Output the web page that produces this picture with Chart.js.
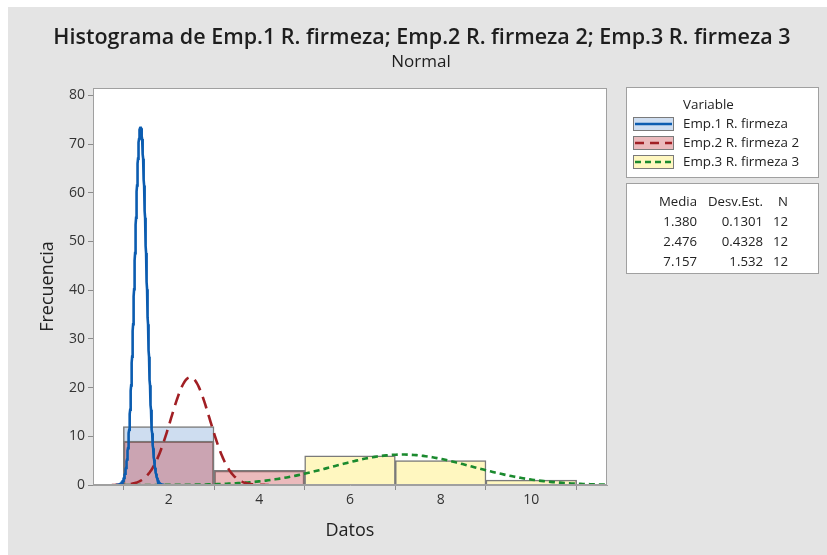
<!DOCTYPE html>
<html lang="es">
<head>
<meta charset="UTF-8">
<title>Histograma de Emp.1 R. firmeza; Emp.2 R. firmeza 2; Emp.3 R. firmeza 3</title>
<script src="https://cdn.jsdelivr.net/npm/chart.js"></script>
<style>
    html, body { margin: 0; padding: 0; background: #ffffff; }
    #histChart { display: block; }
</style>
</head>
<body>
<canvas id="histChart" width="827" height="555"></canvas>
<script>
// --- data ---
const seriesNames = ['Emp.1 R. firmeza', 'Emp.2 R. firmeza 2', 'Emp.3 R. firmeza 3'];
const binCenters = [2, 4, 6, 8, 10];
const binWidth = 2;
const emp1Counts = [12, 0, 0, 0, 0];
const emp2Counts = [9, 3, 0, 0, 0];
const emp3Counts = [0, 0, 6, 5, 1];
const means = [1.380, 2.476, 7.157];
const stdDevs = [0.1301, 0.4328, 1.532];
const sampleSizes = [12, 12, 12];
const xTicks = [2, 4, 6, 8, 10];
const yTicks = [0, 10, 20, 30, 40, 50, 60, 70, 80];

const fillColors = ['rgb(206,221,240)', 'rgba(199,57,62,0.35)', 'rgb(255,247,192)'];
const lineColors = ['#0b5cb0', '#a11f24', '#1b8a2e'];
const lineDashes = [[], [12, 7], [6, 4]];

Chart.defaults.font.family = "'Open Sans', 'Noto Sans', sans-serif";
Chart.defaults.color = '#333333';

function barData(counts) {
    return binCenters.map((c, i) => ({x: c, y: counts[i]})).filter(p => p.y > 0);
}

// fitted normal curve (Minitab "Normal" fit) from the table's Media / Desv.Est. / N
function normalCurve(k) {
    const m = means[k], s = stdDevs[k], n = sampleSizes[k];
    const pts = [];
    const steps = 240;
    for (let i = 0; i <= steps; i++) {
        const x = m - 4 * s + i * 8 * s / steps;
        const z = (x - m) / s;
        pts.push({x: x, y: n * binWidth * Math.exp(-0.5 * z * z) / (s * Math.sqrt(2 * Math.PI))});
    }
    return pts;
}

const allCounts = [emp1Counts, emp2Counts, emp3Counts];
const datasets = [];
seriesNames.forEach((name, k) => {
    datasets.push({
        type: 'line',
        label: name + ' (Normal)',
        data: normalCurve(k),
        borderColor: lineColors[k],
        borderWidth: 2.6,
        borderDash: lineDashes[k],
        pointRadius: 0,
        tension: 0,
        order: 1 + k
    });
});
seriesNames.forEach((name, k) => {
    datasets.push({
        type: 'bar',
        label: name,
        data: barData(allCounts[k]),
        backgroundColor: fillColors[k],
        borderColor: '#7a7a7a',
        borderWidth: 1.5,
        grouped: false,
        barPercentage: 1,
        categoryPercentage: 1,
        order: 6 - k
    });
});

const decorPlugin = {
    id: 'decor',
    beforeDraw(chart) {
        const ctx = chart.ctx, a = chart.chartArea;
        ctx.save();
        ctx.fillStyle = '#ffffff';
        ctx.fillRect(0, 0, chart.width, chart.height);
        ctx.fillStyle = '#e4e4e4';
        ctx.fillRect(8, 7, chart.width - 8, chart.height - 7);
        ctx.fillStyle = '#ffffff';
        ctx.fillRect(a.left, a.top, a.right - a.left, a.bottom - a.top);

        ctx.fillStyle = '#1e1e1e';
        ctx.textAlign = 'center';
        ctx.textBaseline = 'middle';
        ctx.font = "600 21.5px 'Open Sans', sans-serif";
        ctx.fillText('Histograma de ' + seriesNames.join('; '), 422, 38);
        ctx.font = "17px 'Open Sans', sans-serif";
        ctx.fillText('Normal', 421, 62);
        ctx.restore();
    },
    afterDraw(chart) {
        const ctx = chart.ctx, a = chart.chartArea;
        ctx.save();
        ctx.strokeStyle = '#a0a0a0';
        ctx.lineWidth = 1;
        ctx.strokeRect(Math.round(a.left) + 0.5, Math.round(a.top) + 0.5,
            Math.round(a.right - a.left) - 1, Math.round(a.bottom - a.top) - 1);

        // legend box
        ctx.fillStyle = '#ffffff';
        ctx.fillRect(626, 87, 193, 91);
        ctx.strokeRect(626.5, 87.5, 192, 90);
        ctx.fillStyle = '#222222';
        ctx.font = "13.4px 'Open Sans', sans-serif";
        ctx.textBaseline = 'middle';
        ctx.textAlign = 'left';
        ctx.fillText('Variable', 683, 105);
        const rows = [124, 143, 162];
        seriesNames.forEach((name, k) => {
            const y = rows[k];
            ctx.fillStyle = '#ffffff';
            ctx.fillRect(633, y - 7, 41, 14);
            ctx.fillStyle = fillColors[k];
            ctx.fillRect(633, y - 7, 41, 14);
            ctx.strokeStyle = '#7a7a7a';
            ctx.lineWidth = 1;
            ctx.setLineDash([]);
            ctx.strokeRect(633.5, y - 6.5, 40, 13);
            ctx.strokeStyle = lineColors[k];
            ctx.lineWidth = 2.6;
            ctx.setLineDash(k === 1 ? [9, 6] : lineDashes[k]);
            ctx.beginPath();
            ctx.moveTo(635, y);
            ctx.lineTo(672, y);
            ctx.stroke();
            ctx.setLineDash([]);
            ctx.fillStyle = '#222222';
            ctx.fillText(name, 683, y);
        });

        // stats box
        ctx.fillStyle = '#ffffff';
        ctx.fillRect(626, 183, 193, 91);
        ctx.strokeStyle = '#a0a0a0';
        ctx.lineWidth = 1;
        ctx.strokeRect(626.5, 183.5, 192, 90);
        ctx.fillStyle = '#222222';
        ctx.font = "13.2px 'Open Sans', sans-serif";
        ctx.textAlign = 'right';
        const cols = [697, 763, 788];
        ['Media', 'Desv.Est.', 'N'].forEach((h, i) => ctx.fillText(h, cols[i], 202));
        const statRows = [222, 242, 262];
        means.forEach((m, k) => {
            ctx.fillText(m.toPrecision(4), cols[0], statRows[k]);
            ctx.fillText(stdDevs[k].toPrecision(4), cols[1], statRows[k]);
            ctx.fillText(String(sampleSizes[k]), cols[2], statRows[k]);
        });
        ctx.restore();
    }
};

new Chart(document.getElementById('histChart'), {
    type: 'bar',
    data: { datasets: datasets },
    options: {
        responsive: false,
        animation: false,
        devicePixelRatio: 1,
        layout: { padding: { left: 0, top: 88, right: 220, bottom: 0 } },
        plugins: {
            legend: { display: false },
            tooltip: { enabled: false }
        },
        scales: {
            x: {
                type: 'linear',
                min: 0.33,
                max: 11.67,
                offset: false,
                afterFit: s => { s.height = 70; },
                afterBuildTicks: s => { s.ticks = xTicks.map(v => ({value: v})); },
                ticks: { stepSize: 2, includeBounds: false, padding: 2, font: { size: 14 }, color: '#333333' },
                grid: { drawOnChartArea: false, drawTicks: true, tickLength: 5, color: '#8c8c8c' },
                border: { color: '#a0a0a0' },
                title: { display: true, text: 'Datos', font: { size: 18 }, color: '#222222', padding: { bottom: 13 } }
            },
            y: {
                min: 0,
                max: 81.5,
                afterFit: s => { s.width = 93; },
                afterBuildTicks: s => { s.ticks = yTicks.map(v => ({value: v})); },
                ticks: { stepSize: 10, includeBounds: false, padding: 3, font: { size: 14 }, color: '#333333' },
                grid: { drawOnChartArea: false, drawTicks: true, tickLength: 5, color: '#8c8c8c' },
                border: { color: '#a0a0a0' },
                title: { display: true, text: 'Frecuencia', font: { size: 18 }, color: '#222222', padding: { top: 37 } }
            }
        }
    },
    plugins: [decorPlugin]
});
</script>
</body>
</html>
